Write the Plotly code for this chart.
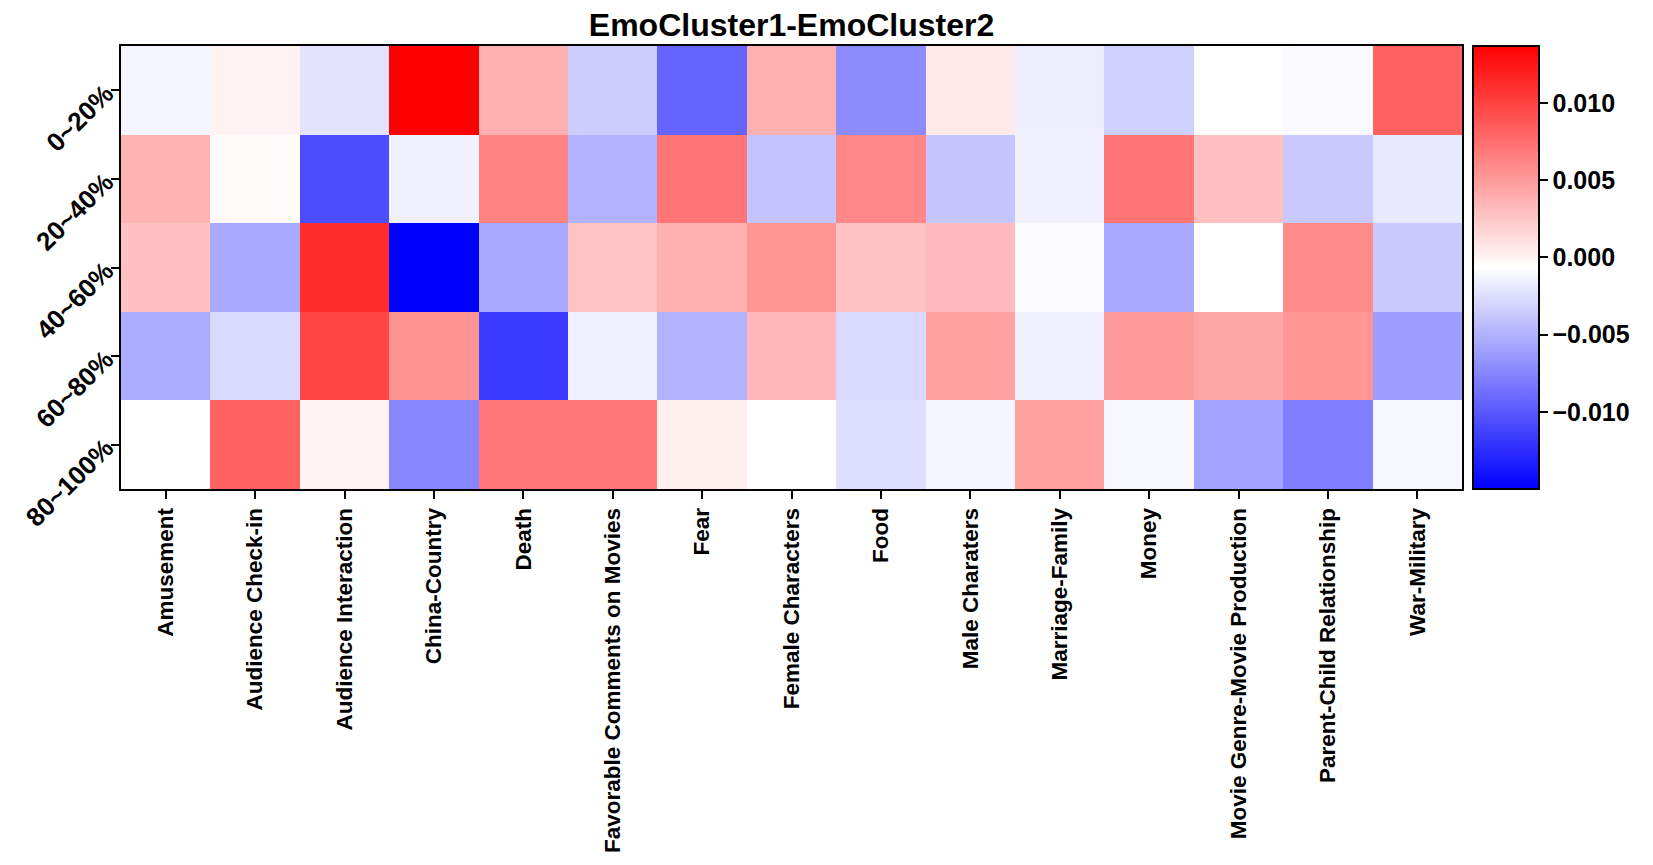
import plotly.graph_objects as go

# Topic categories (columns) and position bins (rows)
topics = ['Amusement', 'Audience Check-in', 'Audience Interaction', 'China-Country',
          'Death', 'Favorable Comments on Movies', 'Fear', 'Female Characters',
          'Food', 'Male Charaters', 'Marriage-Family', 'Money',
          'Movie Genre-Movie Production', 'Parent-Child Relationship', 'War-Military']
bins = ['0~20%', '20~40%', '40~60%', '60~80%', '80~100%']

# difference values per bin
row_0_20 = [-0.0012, 0.0001, -0.0022, 0.0137, 0.0038, -0.0035, -0.0094, 0.0038,
            -0.0071, 0.0006, -0.0016, -0.0033, -0.0007, -0.0010, 0.0083]
row_20_40 = [0.0036, -0.0004, -0.0107, -0.0015, 0.0063, -0.0050, 0.0071, -0.0040,
             0.0061, -0.0039, -0.0015, 0.0071, 0.0029, -0.0037, -0.0019]
row_40_60 = [0.0029, -0.0055, 0.0112, -0.0150, -0.0055, 0.0027, 0.0038, 0.0053,
             0.0028, 0.0032, -0.0008, -0.0055, -0.0006, 0.0059, -0.0037]
row_60_80 = [-0.0053, -0.0028, 0.0098, 0.0055, -0.0117, -0.0015, -0.0050, 0.0034,
             -0.0028, 0.0046, -0.0015, 0.0050, 0.0044, 0.0053, -0.0061]
row_80_100 = [-0.0006, 0.0083, 0.0001, -0.0074, 0.0070, 0.0070, 0.0003, -0.0007,
              -0.0025, -0.0012, 0.0047, -0.0011, -0.0059, -0.0078, -0.0011]

cbar_ticks = [0.010, 0.005, 0.0, -0.005, -0.010]

z = [row_0_20, row_20_40, row_40_60, row_60_80, row_80_100]

# matplotlib-like bwr colormap
bwr = [[0.0, 'rgb(0,0,255)'], [0.5, 'rgb(255,255,255)'], [1.0, 'rgb(255,0,0)']]

font_family = 'Arial, Liberation Sans, sans-serif'

# page body has an 8px default margin, so the figure is a bit smaller
W, H = 1645, 857

fig = go.Figure()
fig.add_trace(go.Heatmap(z=z, x=topics, y=bins,
                         colorscale=bwr,
                         zmin=min(min(r) for r in z),
                         zmax=max(max(r) for r in z),
                         colorbar=dict(thickness=66,
                                       len=1, lenmode='fraction',
                                       y=0.5, yanchor='middle',
                                       x=1.0081, xanchor='left', xpad=0, ypad=0,
                                       outlinecolor='black', outlinewidth=2,
                                       tickvals=cbar_ticks,
                                       tickformat='.3f',
                                       ticks='outside', ticklen=8, tickwidth=2,
                                       tickcolor='black',
                                       tickfont=dict(size=25, color='black',
                                                     family=font_family,
                                                     weight='bold')),
                         hoverongaps=False))

fig.update_layout(width=W, height=H,
                  margin=dict(l=100, r=191, t=38, b=368),
                  plot_bgcolor='white', paper_bgcolor='white',
                  font=dict(family=font_family, color='black'),
                  title=dict(text='<b>EmoCluster1-EmoCluster2</b>',
                             x=0.5, xref='paper', xanchor='center',
                             y=1 - 17 / H, yanchor='middle',
                             font=dict(size=32, color='black', family=font_family)))

fig.update_xaxes(tickangle=-90,
                 tickfont=dict(size=22.5, color='black', family=font_family, weight='bold'),
                 showline=True, mirror=True, linecolor='black', linewidth=2,
                 ticks='outside', ticklen=8, tickwidth=2, tickcolor='black',
                 showgrid=False, zeroline=False)
fig.update_yaxes(autorange='reversed', tickangle=-45,
                 tickfont=dict(size=26, color='black', family=font_family, weight='bold'),
                 showline=True, mirror=True, linecolor='black', linewidth=2,
                 ticks='outside', ticklen=8, tickwidth=2, tickcolor='black',
                 showgrid=False, zeroline=False)

fig.write_html("out.html")
